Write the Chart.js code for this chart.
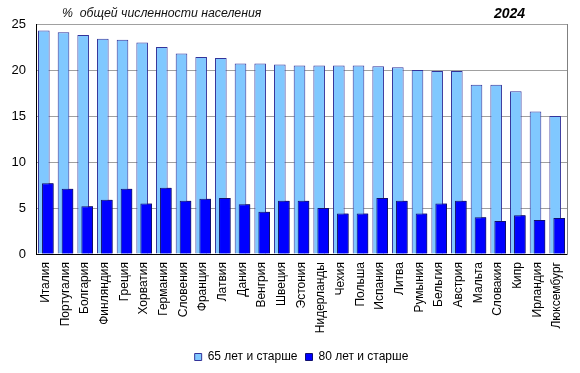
<!DOCTYPE html>
<html>
<head>
<meta charset="utf-8">
<script src="https://cdn.jsdelivr.net/npm/chart.js@4/dist/chart.umd.min.js"></script>
<style>
  html, body { margin: 0; padding: 0; background: #fff; }
  #wrap { position: relative; width: 580px; height: 373px; }
  #chart { position: absolute; left: 0; top: 0; }
  .hdr { position: absolute; font-family: "Liberation Sans", Arial, sans-serif; font-style: italic; color: #111; white-space: pre; }
  #subTitle { left: 62px; top: 6px; font-size: 12.3px; }
  #yearTitle { left: 494px; top: 5px; font-size: 14px; font-weight: bold; color: #000; }
</style>
</head>
<body>
<div id="wrap">
  <canvas id="chart" width="580" height="373"></canvas>
  <div class="hdr" id="subTitle">%  общей численности населения</div>
  <div class="hdr" id="yearTitle">2024</div>
</div>
<script>
(function(){
  // Data
  const countries = ['Италия', 'Португалия', 'Болгария', 'Финляндия', 'Греция', 'Хорватия', 'Германия',
    'Словения', 'Франция', 'Латвия', 'Дания', 'Венгрия', 'Швеция', 'Эстония', 'Нидерланды', 'Чехия',
    'Польша', 'Испания', 'Литва', 'Румыния', 'Бельгия', 'Австрия', 'Мальта', 'Словакия', 'Кипр',
    'Ирландия', 'Люксембург'];
  const aged65 = [24.3, 24.1, 23.8, 23.4, 23.3, 23.0, 22.5, 21.8, 21.4, 21.3, 20.7, 20.7, 20.6, 20.5,
    20.5, 20.5, 20.5, 20.4, 20.3, 20.0, 19.9, 19.9, 18.4, 18.4, 17.7, 15.5, 15.0];
  const aged80 = [7.7, 7.1, 5.2, 5.9, 7.1, 5.5, 7.2, 5.8, 6.0, 6.1, 5.4, 4.6, 5.8, 5.8,
    5.0, 4.4, 4.4, 6.1, 5.8, 4.4, 5.5, 5.8, 4.0, 3.6, 4.2, 3.7, 3.9];
  const seriesNames = ['65 лет и старше', '80 лет и старше'];
  const yTicks = [0, 5, 10, 15, 20, 25];

  const FONT = '"Liberation Sans", Arial, sans-serif';

  // the 80+ bars overlap the 65+ bars, so draw them once more on top
  const darkOnTop = {
    id: 'darkOnTop',
    afterDatasetsDraw(chart) {
      const meta = chart.getDatasetMeta(1);
      if (meta && !meta.hidden) meta.controller.draw();
    }
  };

  const ctx = document.getElementById('chart').getContext('2d');
  new Chart(ctx, {
    type: 'bar',
    data: {
      labels: countries,
      datasets: [{
        label: seriesNames[0],
        data: aged65,
        backgroundColor: '#80c8ff',
        borderColor: '#33339a',
        borderWidth: 1,
        borderSkipped: 'bottom'
      }, {
        label: seriesNames[1],
        data: aged80,
        backgroundColor: '#0000ff',
        borderColor: '#10106e',
        borderWidth: 1,
        borderSkipped: 'bottom'
      }]
    },
    options: {
      responsive: false,
      animation: false,
      categoryPercentage: 0.407,
      barPercentage: 2.9,
      layout: { padding: { left: 0, right: 13, top: 24, bottom: 0 } },
      plugins: {
        legend: {
          position: 'bottom',
          fullSize: false,
          labels: {
            boxWidth: 7,
            boxHeight: 7,
            padding: 8,
            color: '#000',
            font: { family: FONT, size: 12 }
          }
        },
        title: { display: false },
        tooltip: { enabled: false }
      },
      scales: {
        x: {
          grid: { display: false, drawTicks: false },
          border: { color: '#000', width: 1 },
          ticks: {
            minRotation: 90,
            maxRotation: 90,
            autoSkip: false,
            padding: 8,
            color: '#000',
            font: { family: FONT, size: 12 }
          },
          afterFit(scale) { scale.height = 89; }
        },
        y: {
          min: 0,
          max: 25,
          afterBuildTicks(scale) { scale.ticks = yTicks.map(v => ({ value: v })); },
          grid: {
            drawTicks: false,
            color: c => (c.tick && c.tick.value === 0) ? 'rgba(0,0,0,0)' : '#a0a0a0'
          },
          border: { color: '#000', width: 1 },
          ticks: {
            padding: 10,
            color: '#000',
            font: { family: FONT, size: 13 }
          },
          afterFit(scale) { scale.width = 36; }
        },
        yFrame: {
          position: 'right',
          display: true,
          grid: { display: false, drawTicks: false },
          border: { color: '#808080', width: 1 },
          ticks: { display: false },
          afterFit(scale) { scale.width = 0; }
        }
      }
    },
    plugins: [darkOnTop]
  });
})();
</script>
</body>
</html>
